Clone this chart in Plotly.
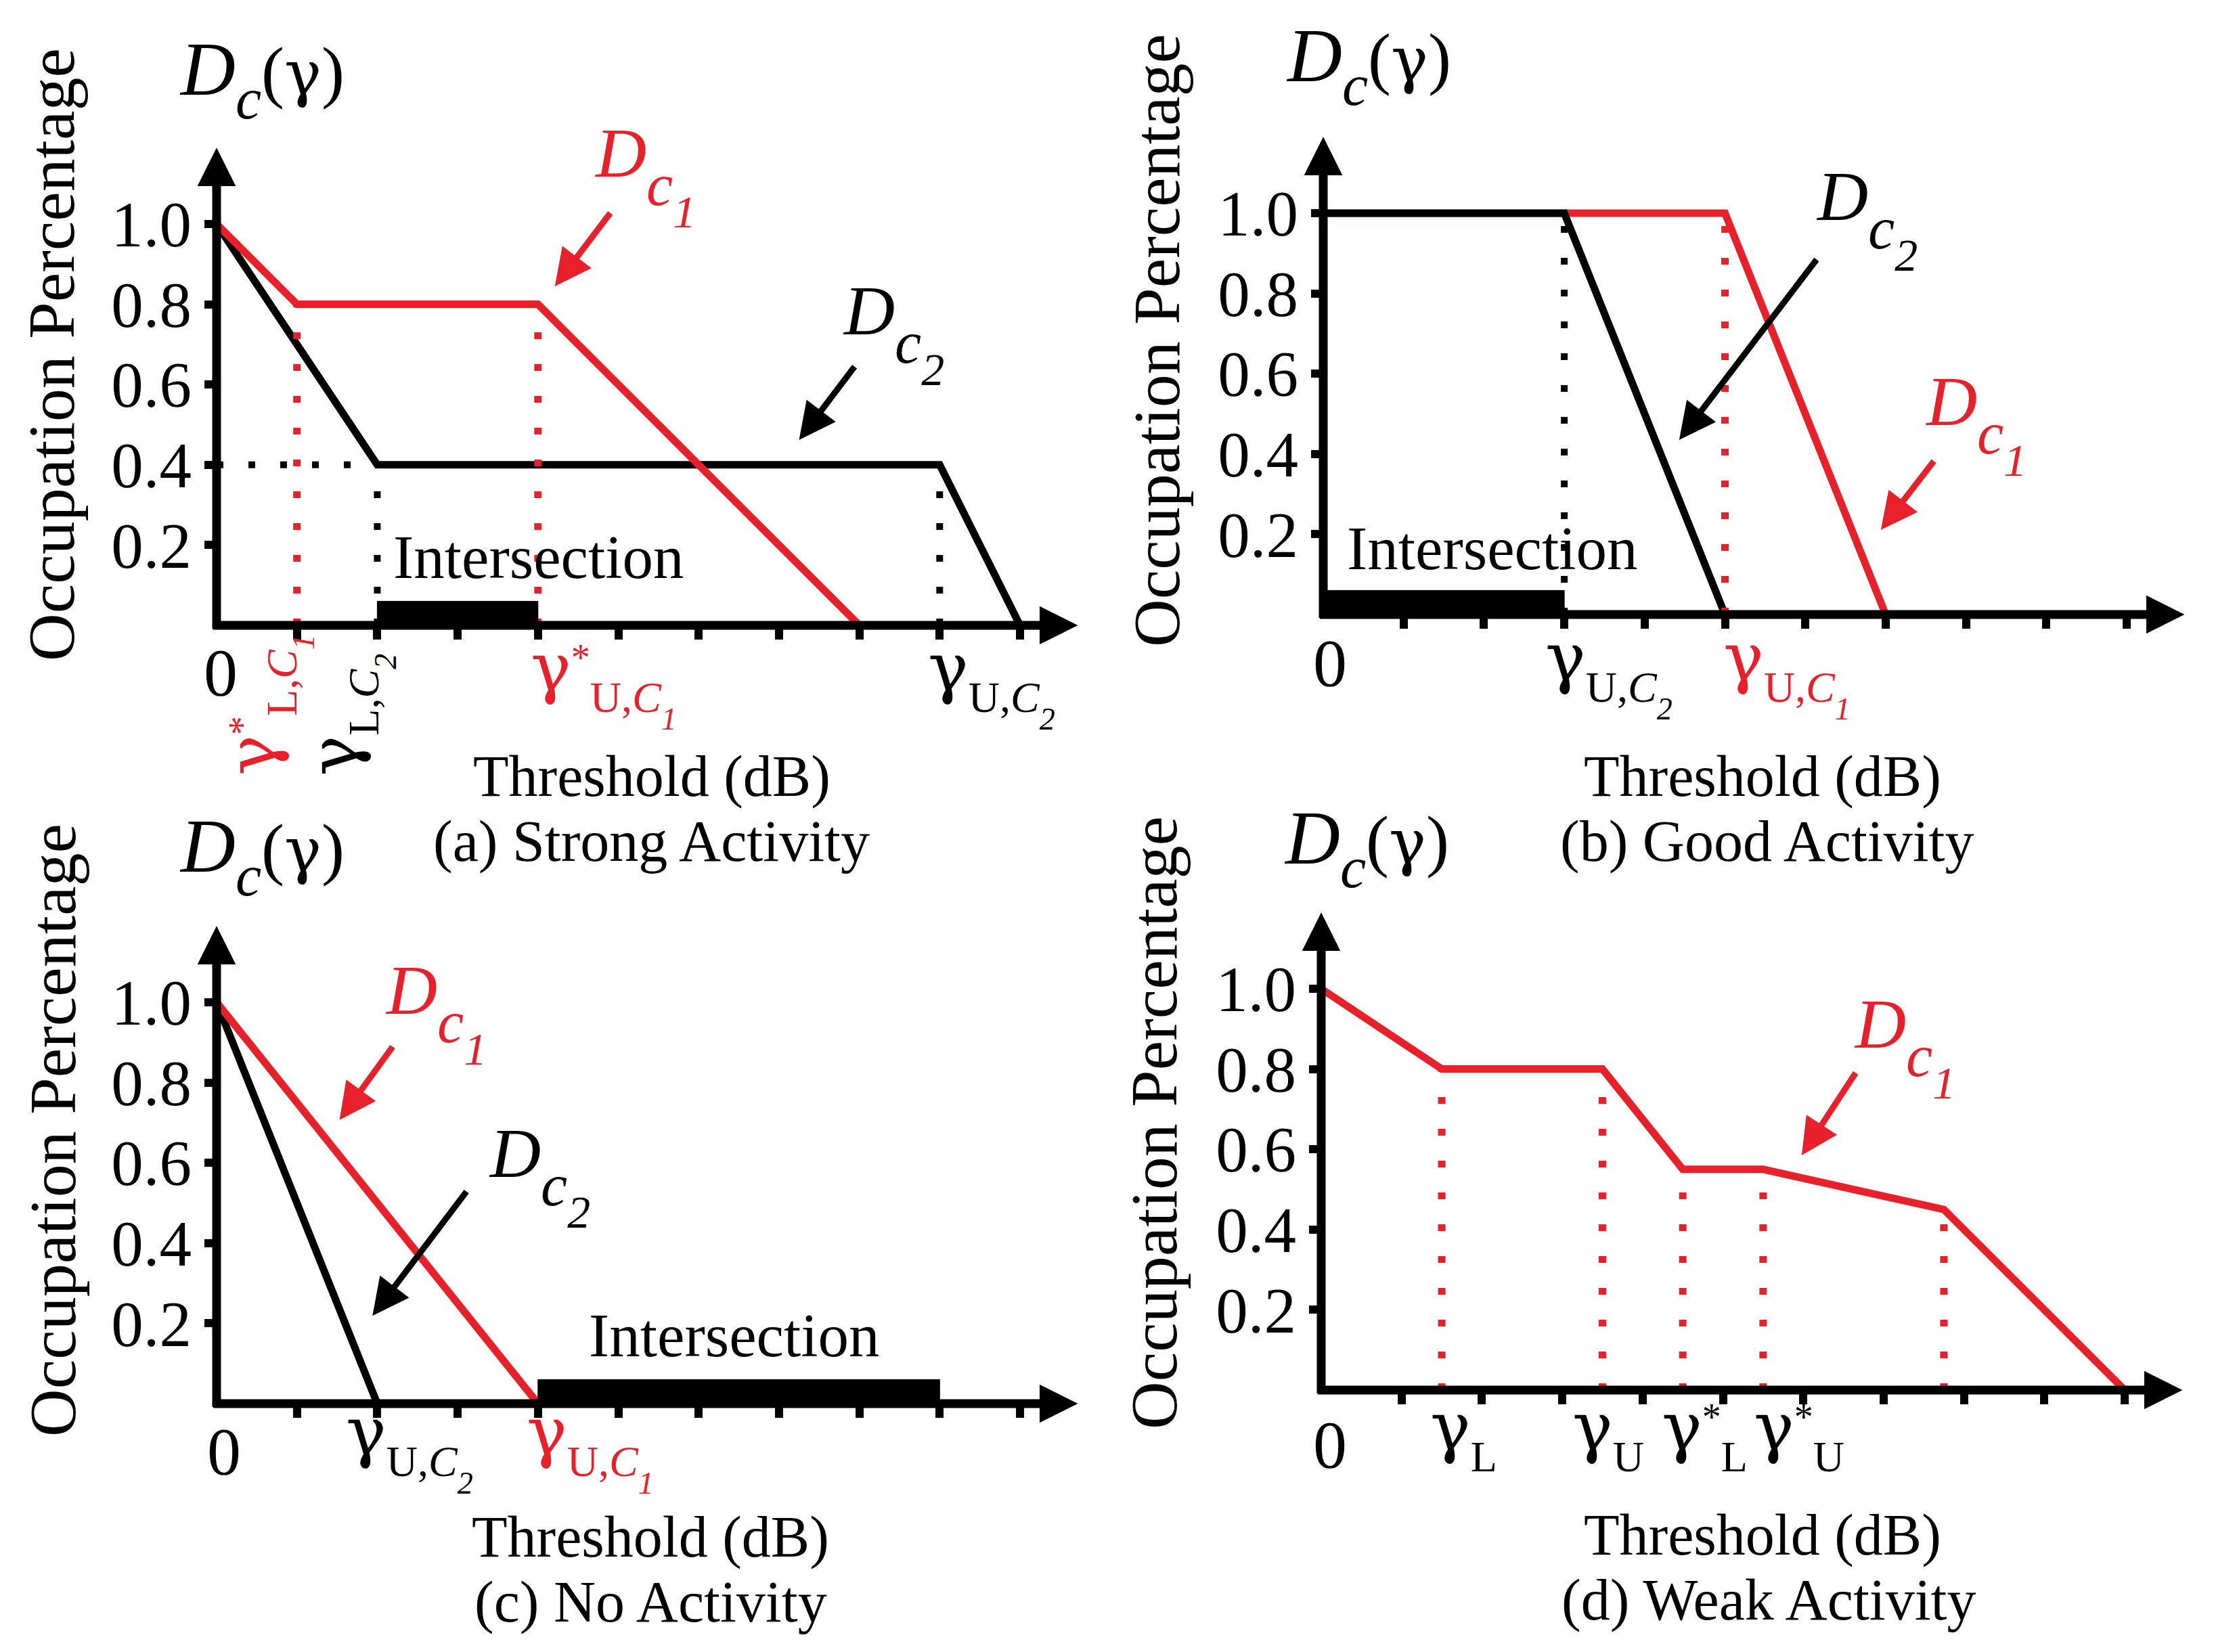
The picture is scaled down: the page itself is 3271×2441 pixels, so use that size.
import numpy as np
import plotly.graph_objects as go

W, H = 3271, 2441
RED = "#E8202A"
BLACK = "#000000"
FONT = "Liberation Serif"
GFONT = "DejaVu Serif"     # curly gamma
K_LIB = 1.04               # box-top to baseline (em), Liberation Serif
K_DJV = 1.08               # box-top to baseline (em), DejaVu Serif

# ---------------- data ----------------
X_TICKS = [1, 2, 3, 4, 5, 6, 7, 8, 9, 10]
Y_TICKS = [0.2, 0.4, 0.6, 0.8, 1.0]
Y_TICK_TEXT = ["0.2", "0.4", "0.6", "0.8", "1.0"]

# (a) Strong Activity
A_C1_X = [0, 1, 4, 8]
A_C1_Y = [1.0, 0.8, 0.8, 0.0]
A_C2_X = [0, 2, 9, 10]
A_C2_Y = [1.0, 0.4, 0.4, 0.0]
A_C1_GUIDES = [1, 4]
A_C2_GUIDES = [2, 9]
A_C2_LEVEL_SPAN = [0, 2]
A_INTERSECTION = [2, 4]

# (b) Good Activity
B_C1_X = [0, 5, 7]
B_C1_Y = [1.0, 1.0, 0.0]
B_C2_X = [0, 3, 5]
B_C2_Y = [1.0, 1.0, 0.0]
B_C1_GUIDES = [5]
B_C2_GUIDES = [3]
B_INTERSECTION = [0, 3]

# (c) No Activity
C_C1_X = [0, 4]
C_C1_Y = [1.0, 0.0]
C_C2_X = [0, 2]
C_C2_Y = [1.0, 0.0]
C_INTERSECTION = [4, 9]

# (d) Weak Activity
D_C1_X = [0, 1.5, 3.5, 4.5, 5.5, 7.75, 10]
D_C1_Y = [1.0, 0.8, 0.8, 0.55, 0.55, 0.45, 0.0]
D_C1_GUIDES = [1.5, 3.5, 4.5, 5.5, 7.75]

BAR_HEIGHT = 0.06

# x-axis threshold labels: (x, subscript, sub-subscript, star, colour, rotated)
A_XLABELS = [(1, "L,<i>C</i>", "1", True, RED, True),
             (2, "L,<i>C</i>", "2", False, BLACK, True),
             (4, "U,<i>C</i>", "1", True, RED, False),
             (9, "U,<i>C</i>", "2", False, BLACK, False)]
B_XLABELS = [(3, "U,<i>C</i>", "2", False, BLACK, False),
             (5, "U,<i>C</i>", "1", False, RED, False)]
C_XLABELS = [(2, "U,<i>C</i>", "2", False, BLACK, False),
             (4, "U,<i>C</i>", "1", False, RED, False)]
D_XLABELS = [(1.5, "L", "", False, BLACK, False),
             (3.5, "U", "", False, BLACK, False),
             (4.5, "L", "", True, BLACK, False),
             (5.5, "U", "", True, BLACK, False)]

# curve name labels (x, y of "D", index, colour) and pointer arrows (tail -> head)
A_NAMES = [(4.70, 1.093, "1", RED), (7.79, 0.70, "2", BLACK)]
A_POINTERS = [(4.91, 1.03, 4.21, 0.845, RED), (7.95, 0.647, 7.25, 0.462, BLACK)]
B_NAMES = [(6.13, 0.958, "2", BLACK), (7.49, 0.447, "1", RED)]
B_POINTERS = [(6.15, 0.887, 4.43, 0.435, BLACK), (7.61, 0.385, 6.94, 0.211, RED)]
C_NAMES = [(2.10, 0.945, "1", RED), (3.39, 0.54, "2", BLACK)]
C_POINTERS = [(2.20, 0.892, 1.53, 0.707, RED), (3.12, 0.531, 1.94, 0.219, BLACK)]
D_NAMES = [(6.63, 0.827, "1", RED)]
D_POINTERS = [(6.66, 0.793, 5.98, 0.585, RED)]

TITLES = ["(a) Strong Activity", "(b) Good Activity", "(c) No Activity", "(d) Weak Activity"]
X_TITLE = "Threshold (dB)"
Y_TITLE = "Occupation Percentage"

# ---------------- geometry (pixels) ----------------
UX, UY = 118.7, 593.0
XMAX, YMAX = 10.75, 1.2
XTIP, YTIP = 10.72, 1.19
TITLE_SIZE = 86
PANELS = [
    dict(n=1, ox=312, oy=916, gdv=-3, zero=(6, 118), dcb=-768,
         title=(955, 1180), cap=(954, 1276), ytitle=(68, 516), inter=(573, 860)),
    dict(n=2, ox=1947, oy=900, gdv=-2, zero=(10, 120), dcb=-772,
         title=(2596, 1180), cap=(2603, 1276), ytitle=(1701, 495), inter=(1982, 847)),
    dict(n=3, ox=312, oy=2066, gdv=-24, zero=(11, 119), dcb=-770,
         title=(953, 2304), cap=(953, 2400), ytitle=(70, 1662), inter=(862, 2010)),
    dict(n=4, ox=1944, oy=2046, gdv=-11, zero=(13, 129), dcb=-762,
         title=(2596, 2301), cap=(2605, 2397), ytitle=(1697, 1651), inter=None),
]
for p in PANELS:
    p["xr"] = "x" if p["n"] == 1 else "x%d" % p["n"]
    p["yr"] = "y" if p["n"] == 1 else "y%d" % p["n"]

LABEL_DX = {  # per-label horizontal offset of the gamma (px from tick)
    (1, 1): -18, (1, 2): -15, (1, 4): -11, (1, 9): -17,
    (2, 3): -28, (2, 5): -3,
    (3, 2): -46, (3, 4): -17,
    (4, 1.5): -17, (4, 3.5): -44, (4, 4.5): -31, (4, 5.5): -14,
}
GSIZE = 100

fig = go.Figure()
annotations = []


def span(content, size=None, family=None):
    st = []
    if family:
        st.append("font-family:%s" % family)
    if size:
        st.append("font-size:%.1fpx" % size)
    return "<span style='%s'>%s</span>" % (";".join(st), content)


def lowered(content, shift, levels=2):
    s = 0.3 * sum(0.7 ** k for k in range(1, levels + 1))
    return span("<sub>" * levels + content + "</sub>" * levels, shift / s)


def raised(content, shift):
    return span("<sup>" + content + "</sup>", shift / 0.42)


def line(p, x, y, color, width, dash="solid", fill=None):
    fig.add_trace(go.Scatter(
        x=x, y=y, mode="lines", xaxis=p["xr"], yaxis=p["yr"],
        line=dict(color=color, width=width, dash=dash),
        fill=fill, fillcolor=color if fill else None,
        showlegend=False, hoverinfo="skip"))


def guides(p, xs, X, Y, color, width):
    for g in xs:
        h = float(np.interp(g, X, Y))
        line(p, [g, g], [0, h], color, width, "10px,37px")


def bar(p, span_):
    a, b = span_
    line(p, [a, b, b, a, a], [0, 0, BAR_HEIGHT, BAR_HEIGHT, 0], BLACK, 1, fill="toself")


def ann(text, xref, x, xshift, y_px, yanchor, xanchor, size, color,
        family=FONT, angle=0):
    annotations.append(dict(
        text=text, xref=xref, x=x, xshift=xshift, yref="paper", y=1 - y_px / H,
        xanchor=xanchor, yanchor=yanchor, showarrow=False, textangle=angle,
        borderpad=0, borderwidth=0, font=dict(family=family, size=size, color=color)))


def htext(text, xref, x, xshift, baseline, size, color, xanchor="left", k=K_LIB):
    ann(text, xref, x, xshift, baseline - k * size, "top", xanchor, size, color)


def gamma_text(sub, digit, star):
    t = span("γ", GSIZE, GFONT)
    if star:
        t += raised(span("*", 56), 29)
    inner = sub
    if digit:
        inner += lowered(span("<i>%s</i>" % digit, 46), 26, 2)
    t += lowered(span(inner, 64), 32, 2)
    return t


def gamma_label(p, spec):
    xval, sub, digit, star, color, rotated = spec
    xr = p["xr"]
    dx = LABEL_DX[(p["n"], xval)]
    text = gamma_text(sub, digit, star)
    top_off = K_DJV * GSIZE
    if rotated:
        sy = p["oy"] + 222
        ann(text, xr, xval, dx - top_off, sy, "bottom", "left", 64, color, FONT, -90)
    else:
        base = p["oy"] + p["gdv"] + 114
        ann(text, xr, xval, dx, base - top_off, "top", "left", 64, color)


def name_label(p, spec):
    x, y, digit, color = spec
    base = p["oy"] - y * UY
    inner = span("<i>c</i>" + lowered(span("<i>%s</i>" % digit, 68), 33, 2), 88)
    text = span("<i>D</i>", 104) + lowered(inner, 42, 3)
    htext(text, p["xr"], x, 0, base, 104, color)


def pointer(p, spec):
    tx, ty, hx, hy, color = spec
    annotations.append(dict(
        x=hx, y=hy, ax=tx, ay=ty, xref=p["xr"], yref=p["yr"],
        axref=p["xr"], ayref=p["yr"], text="", showarrow=True,
        arrowhead=2, arrowsize=1.2, arrowwidth=9, arrowcolor=color, standoff=0))


def axis_arrows(p):
    for (hx, hy, tx, ty) in [(XTIP, 0, -6.5 / UX, 0), (0, YTIP, 0, -6.5 / UY)]:
        annotations.append(dict(
            x=hx, y=hy, ax=tx, ay=ty, xref=p["xr"], yref=p["yr"],
            axref=p["xr"], ayref=p["yr"], text="", showarrow=True,
            arrowhead=2, arrowsize=0.87, arrowwidth=13, arrowcolor=BLACK, standoff=0))


def panel_text(p, title):
    xr = p["xr"]
    base = p["oy"] + p["dcb"]
    dc = (span("<i>D</i>", 112) + lowered(span("<i>c</i>", 86), 35, 2)
          + span("(" + span("γ", 92, GFONT) + ")", 102))
    htext(dc, xr, 0, -55, base, 112, BLACK)
    zx, zb = p["zero"]
    htext("0", xr, 0, zx, p["oy"] + zb, 100, BLACK, "center")
    tx, tb = p["title"]
    htext(X_TITLE, "paper", tx / W, 0, tb, TITLE_SIZE, BLACK, "center")
    cx, cb = p["cap"]
    htext(title, "paper", cx / W, 0, cb, TITLE_SIZE, BLACK, "center")
    yx, yy = p["ytitle"]
    ann(Y_TITLE, "paper", yx / W, 0, yy, "middle", "center", 98, BLACK, FONT, -90)
    axis_arrows(p)


pa, pb, pc, pd = PANELS

# (a)
line(pa, A_C2_X, A_C2_Y, BLACK, 11)
line(pa, A_C1_X, A_C1_Y, RED, 11)
lvl = float(np.interp(A_C2_LEVEL_SPAN[1], A_C2_X, A_C2_Y))
line(pa, A_C2_LEVEL_SPAN, [lvl, lvl], BLACK, 10, "10px,37px")
guides(pa, A_C2_GUIDES, A_C2_X, A_C2_Y, BLACK, 10)
guides(pa, A_C1_GUIDES, A_C1_X, A_C1_Y, RED, 11)
bar(pa, A_INTERSECTION)

# (b)
line(pb, B_C1_X, B_C1_Y, RED, 11)
line(pb, B_C2_X, B_C2_Y, BLACK, 11)
guides(pb, B_C2_GUIDES, B_C2_X, B_C2_Y, BLACK, 10)
guides(pb, B_C1_GUIDES, B_C1_X, B_C1_Y, RED, 11)
bar(pb, B_INTERSECTION)

# (c)
line(pc, C_C2_X, C_C2_Y, BLACK, 11)
line(pc, C_C1_X, C_C1_Y, RED, 11)
bar(pc, C_INTERSECTION)

# (d)
line(pd, D_C1_X, D_C1_Y, RED, 11)
guides(pd, D_C1_GUIDES, D_C1_X, D_C1_Y, RED, 11)

for p, labels, names, ptrs, title in [
        (pa, A_XLABELS, A_NAMES, A_POINTERS, TITLES[0]),
        (pb, B_XLABELS, B_NAMES, B_POINTERS, TITLES[1]),
        (pc, C_XLABELS, C_NAMES, C_POINTERS, TITLES[2]),
        (pd, D_XLABELS, D_NAMES, D_POINTERS, TITLES[3])]:
    for s in labels:
        gamma_label(p, s)
    for s in names:
        name_label(p, s)
    for s in ptrs:
        pointer(p, s)
    panel_text(p, title)
    if p["inter"]:
        ix, ib = p["inter"]
        htext("Intersection", "paper", ix / W, 0, ib, 91, BLACK)

layout = dict(width=W, height=H, margin=dict(l=0, r=0, t=0, b=0),
              paper_bgcolor="white", plot_bgcolor="white", autosize=False,
              font=dict(family=FONT, color=BLACK), showlegend=False,
              annotations=annotations)
for p in PANELS:
    sfx = "" if p["n"] == 1 else str(p["n"])
    ox, oy = p["ox"], p["oy"]
    layout["xaxis" + sfx] = dict(
        domain=[ox / W, (ox + XMAX * UX) / W], range=[0, XMAX],
        anchor=p["yr"], showline=False, zeroline=False, showgrid=False,
        ticks="outside", tickvals=X_TICKS, ticklen=20, tickwidth=12,
        tickcolor=BLACK, showticklabels=False, fixedrange=True)
    layout["yaxis" + sfx] = dict(
        domain=[1 - oy / H, 1 - (oy - YMAX * UY) / H], range=[0, YMAX],
        anchor=p["xr"], showline=False, zeroline=False, showgrid=False,
        ticks="outside", tickvals=Y_TICKS, ticktext=Y_TICK_TEXT, ticklen=17,
        tickwidth=12, tickcolor=BLACK,
        tickfont=dict(family=FONT, size=95, color=BLACK), fixedrange=True)

fig.update_layout(**layout)
fig.write_html("out.html")
